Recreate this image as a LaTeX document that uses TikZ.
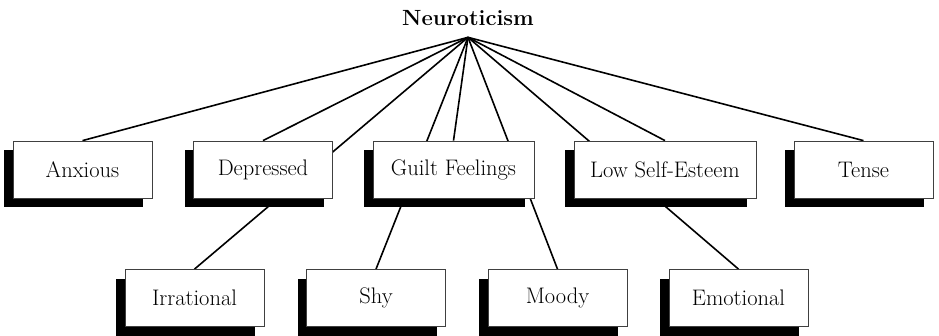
\documentclass[tikz,border=0pt]{standalone}
\usetikzlibrary{positioning,shadows,backgrounds}
\tikzset{
        trait/.style = { draw=black!75, line width=0.8pt, fill=white, inner sep=0pt,
                         minimum width=139pt, minimum height=57pt,
                         font=\fontsize{22.5}{26}\selectfont,
                         drop shadow={shadow xshift=-9pt, shadow yshift=-9pt, opacity=1, fill=black} },
       factor/.style = { inner sep=0pt, anchor=base, font=\fontsize{22}{26}\selectfont\bfseries },
         link/.style = { line width=1.6pt }
}

\begin{document}
\begin{tikzpicture}[x=1pt, y=1pt]
  \useasboundingbox (0,0) rectangle (939,-335);

  % factor
  \node at(468,-25) [factor] (root) {Neuroticism};
  \coordinate [below=12pt of root] (apex);

  % upper row
  \node at(82.5,-169.5)  [trait] (anxious) {Anxious};
  \node at(263,-169.5)   [trait] (depressed) {Depressed};
  \node at(453.5,-169.5) [trait, minimum width=161pt] (guilt) {Guilt Feelings};
  \node at(665,-169.5)   [trait, minimum width=182pt] (esteem) {Low Self-Esteem};
  \node at(863.5,-169.5) [trait] (tense) {Tense};

  % lower row
  \node at(194.5,-298) [trait] (irrational) {Irrational};
  \node at(376,-298)   [trait] (shy) {Shy};
  \node at(557.5,-298) [trait] (moody) {Moody};
  \node at(738.5,-298) [trait] (emotional) {Emotional};

  % links
  \begin{pgfonlayer}{background}
    \foreach \t in {anxious,depressed,guilt,esteem,tense,irrational,shy,moody,emotional}
      \draw[link] (apex) -- (\t.north);
  \end{pgfonlayer}
\end{tikzpicture}
\end{document}
